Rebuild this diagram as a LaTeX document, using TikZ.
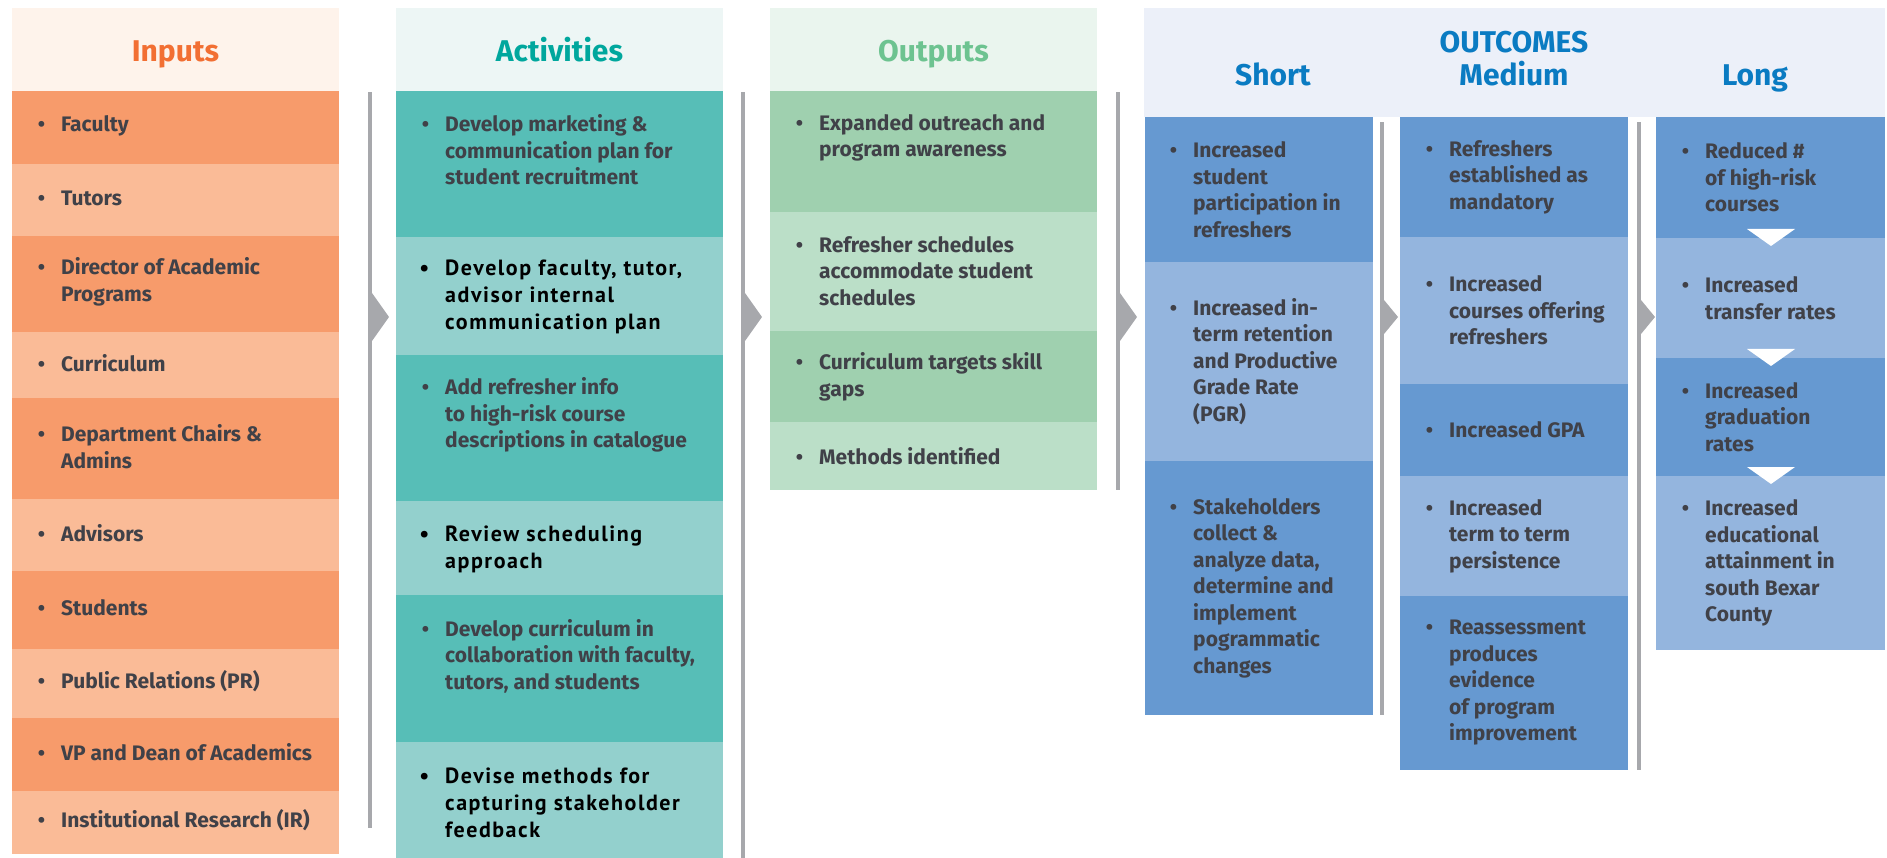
\documentclass[tikz,border=0pt]{standalone}
\usepackage{fontspec}
\setmainfont{Fira Sans}
\newfontfamily\dinfont{PT Sans}[LetterSpace=7]
\usetikzlibrary{positioning}

\definecolor{inpHead}{HTML}{FEF3EB}
\definecolor{inpTitle}{HTML}{F26F33}
\definecolor{inpDark}{HTML}{F79B6B}
\definecolor{inpLight}{HTML}{FABB97}
\definecolor{actHead}{HTML}{EDF6F5}
\definecolor{actTitle}{HTML}{00A79D}
\definecolor{actDark}{HTML}{57BEB7}
\definecolor{actLight}{HTML}{93D0CD}
\definecolor{outHead}{HTML}{EAF5EE}
\definecolor{outTitle}{HTML}{6DC390}
\definecolor{outDark}{HTML}{9FD0AF}
\definecolor{outLight}{HTML}{BBDFC8}
\definecolor{ocHead}{HTML}{ECF0F9}
\definecolor{ocTitle}{HTML}{0A7BC2}
\definecolor{ocDark}{HTML}{6699D1}
\definecolor{ocLight}{HTML}{94B5DE}
\definecolor{txtGray}{HTML}{404148}
\definecolor{sepGray}{HTML}{A7A8AC}

\newcommand{\bul}{\llap{\textbullet\hspace{16pt}}}

\begin{document}
\begin{tikzpicture}[x=1pt,y=-1pt,
  item/.style={anchor=west,align=left,inner sep=0pt,text=txtGray,
    font=\fontsize{21}{26.5}\selectfont\bfseries},
  blk/.style={item,text=black,font=\dinfont\fontsize{22}{27}\selectfont\bfseries},
  title/.style={anchor=base,inner sep=0pt,font=\fontsize{30}{32}\selectfont\bfseries}]
\useasboundingbox (0,0) rectangle (1887,858);

% inputs
\fill[inpHead] (12,8) rectangle (339,91);
\node[title,text=inpTitle] (inp) at (175.5,62) {Inputs};
\foreach \ya/\yb/\c/\t [count=\i] in {91/164/inpDark/Faculty,
  164/236/inpLight/Tutors,
  236/332/inpDark/{Director of Academic\\Programs},
  332/398/inpLight/Curriculum,
  398/499/inpDark/{Department Chairs \&\\Admins},
  499/571/inpLight/Advisors,
  571/649/inpDark/Students,
  649/718/inpLight/Public Relations (PR),
  718/791/inpDark/VP and Dean of Academics,
  791/854/inpLight/Institutional Research (IR)}{
  \fill[\c] (12,\ya) rectangle (339,\yb);
  \node[item] (inp\i) at (61,{(\ya+\yb)/2-2}) {\bul\t};
}

% activities
\fill[actHead] (396,8) rectangle (723,91);
\node[title,text=actTitle] (act) at (559.5,62) {Activities};
\foreach \ya/\yb/\c/\ty/\s/\t [count=\i] in {91/237/actDark/150/item/{Develop marketing \&\\communication plan for\\student recruitment},
  237/355/actLight/297/blk/{Develop faculty, tutor,\\advisor internal\\communication plan},
  355/501/actDark/415/item/{Add refresher info\\to high-risk course\\descriptions in catalogue},
  501/595/actLight/549/blk/{Review scheduling\\approach},
  595/742/actDark/656/item/{Develop curriculum in\\collaboration with faculty,\\tutors, and students},
  742/858/actLight/803/blk/{Devise methods for\\capturing stakeholder\\feedback}}{
  \fill[\c] (396,\ya) rectangle (723,\yb);
  \node[\s] (act\i) at (445,\ty) {\bul\t};
}

% outputs
\fill[outHead] (770,8) rectangle (1097,91);
\node[title,text=outTitle] (out) at (933.5,62) {Outputs};
\foreach \ya/\yb/\c/\ty/\t [count=\i] in {91/212/outDark/138/{Expanded outreach and\\program awareness},
  212/331/outLight/271/{Refresher schedules\\accommodate student\\schedules},
  331/422/outDark/377/{Curriculum targets skill\\gaps},
  422/490/outLight/456/{Methods identified}}{
  \fill[\c] (770,\ya) rectangle (1097,\yb);
  \node[item] (out\i) at (819,\ty) {\bul\t};
}

% outcomes
\fill[ocHead] (1144,8) rectangle (1885,117);
\node[title,text=ocTitle] (oc) at (1514,53) {OUTCOMES};
\node[title,text=ocTitle] (short) at (1273,86) {Short};
\node[title,text=ocTitle] (medium) at (1514,86) {Medium};
\node[title,text=ocTitle] (long) at (1755,86) {Long};
\foreach \ya/\yb/\c/\t [count=\i] in {117/262/ocDark/{Increased\\student\\participation in\\refreshers},
  262/461/ocLight/{Increased in-\\term retention\\and Productive\\Grade Rate\\(PGR)},
  461/715/ocDark/{Stakeholders\\collect \&\\analyze data,\\determine and\\implement\\pogrammatic\\changes}}{
  \fill[\c] (1145,\ya) rectangle (1373,\yb);
  \node[item] (sh\i) at (1193,{(\ya+\yb)/2}) {\bul\t};
}
\foreach \ya/\yb/\c/\t [count=\i] in {117/237/ocDark/{Refreshers\\established as\\mandatory},
  237/384/ocLight/{Increased\\courses offering\\refreshers},
  384/476/ocDark/{Increased GPA},
  476/596/ocLight/{Increased\\term to term\\persistence},
  596/770/ocDark/{Reassessment\\produces\\evidence\\of program\\improvement}}{
  \fill[\c] (1400,\ya) rectangle (1628,\yb);
  \node[item] (me\i) at (1449,{(\ya+\yb)/2}) {\bul\t};
}
\foreach \ya/\yb/\c/\t [count=\i] in {117/238/ocDark/{Reduced \#\\of high-risk\\courses},
  238/358/ocLight/{Increased\\transfer rates},
  358/476/ocDark/{Increased\\graduation\\rates},
  476/650/ocLight/{Increased\\educational\\attainment in\\south Bexar\\County}}{
  \fill[\c] (1656,\ya) rectangle (1885,\yb);
  \node[item] (lo\i) at (1705,{(\ya+\yb)/2}) {\bul\t};
}
\foreach \y in {238,358,476}
  \fill[white] (1747,\y-9) -- (1795,\y-9) -- (1771,\y+8) -- cycle;

% separators
\foreach \x/\ya/\yb/\h/\l in {368/92/828/24/17, 741/92/858/24/17, 1116/92/490/24/17,
  1380/122/715/17/14, 1637/122/770/17/14}{
  \fill[sepGray] (\x,\ya) rectangle (\x+4,\yb);
  \fill[sepGray] (\x+4,317-\h) -- (\x+4+\l,317) -- (\x+4,317+\h) -- cycle;
}
\end{tikzpicture}
\end{document}
